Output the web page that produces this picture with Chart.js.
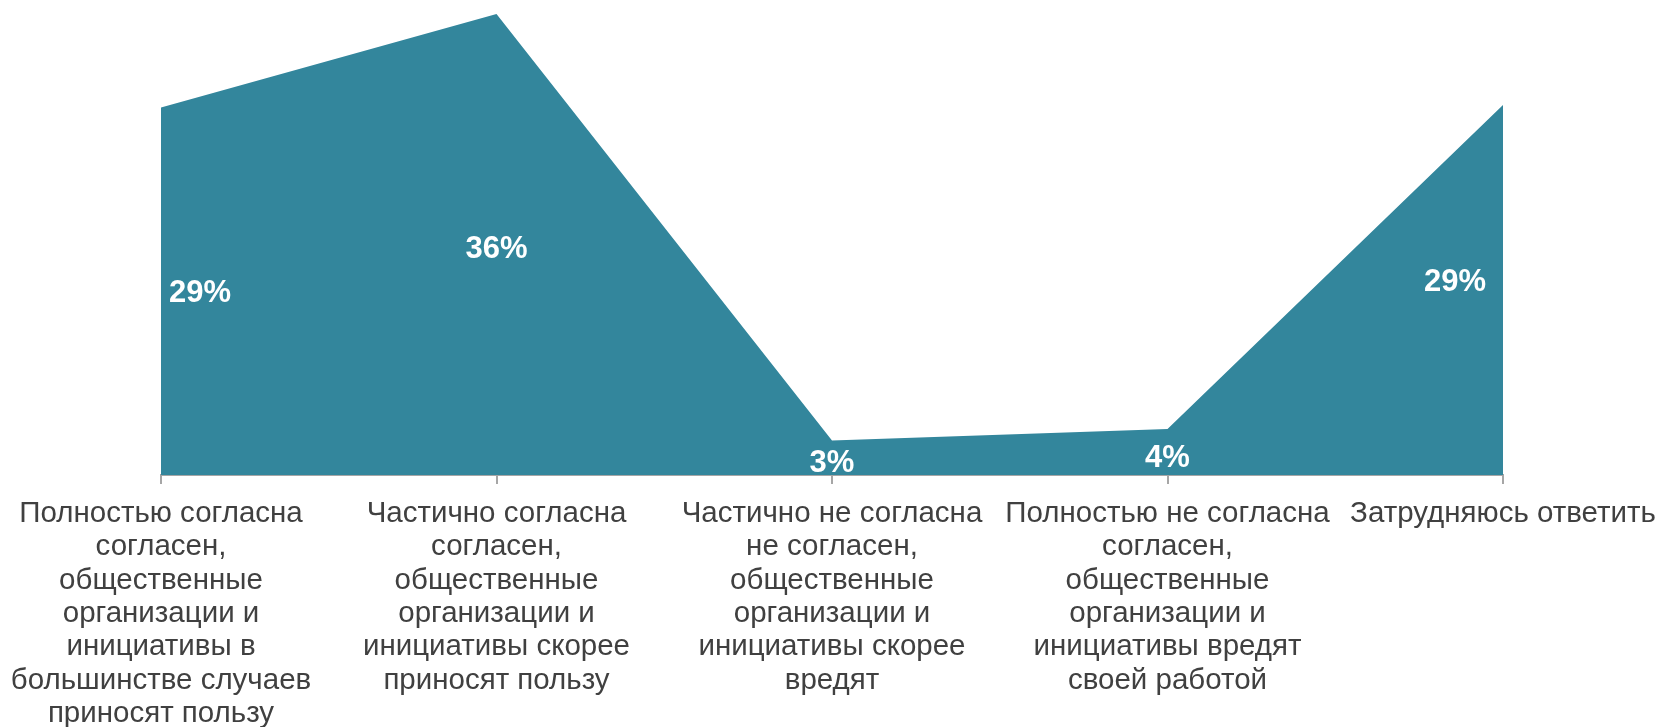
<!DOCTYPE html>
<html>
<head>
<meta charset="utf-8">
<script src="https://cdn.jsdelivr.net/npm/chart.js@4.4.1/dist/chart.umd.min.js"></script>
<style>
  html, body { margin: 0; padding: 0; background: #ffffff; }
  #wrap { position: relative; width: 1661px; height: 727px; }
</style>
</head>
<body>
<div id="wrap"><canvas id="c" width="1661" height="727"></canvas></div>
<script>
// Categories (wrapped as in the original)
const categories = [
  ["Полностью согласна", "согласен,", "общественные", "организации и", "инициативы в", "большинстве случаев", "приносят пользу"],
  ["Частично согласна", "согласен,", "общественные", "организации и", "инициативы скорее", "приносят пользу"],
  ["Частично не согласна", "не согласен,", "общественные", "организации и", "инициативы скорее", "вредят"],
  ["Полностью не согласна", "согласен,", "общественные", "организации и", "инициативы вредят", "своей работой"],
  ["Затрудняюсь ответить"]
];
// Series values (percent)
const values = [28.7, 36, 2.7, 3.6, 28.9];
// Data label texts
const valueLabels = ["29%", "36%", "3%", "4%", "29%"];

const FONT = "'Liberation Sans', Arial, Helvetica, sans-serif";

const labelPlugin = {
  id: 'areaLabels',
  afterDatasetsDraw(chart) {
    const ctx = chart.ctx;
    const meta = chart.getDatasetMeta(0);
    const yScale = chart.scales.y;
    const align = ['left', 'center', 'center', 'center', 'right'];
    const dx = [8, 0, 0, 0, -17];
    const dy = [2, 5, 6, 7, -8];
    ctx.save();
    ctx.font = "bold 31px " + FONT;
    ctx.fillStyle = '#ffffff';
    ctx.textBaseline = 'middle';
    meta.data.forEach((pt, i) => {
      const y = yScale.getPixelForValue(values[i] / 2) + dy[i];
      ctx.textAlign = align[i];
      ctx.fillText(valueLabels[i], pt.x + dx[i], y);
    });
    ctx.restore();
  }
};

new Chart(document.getElementById('c'), {
  type: 'line',
  data: {
    labels: categories,
    datasets: [{
      data: values,
      fill: 'origin',
      backgroundColor: '#33869c',
      borderWidth: 0,
      borderColor: 'rgba(0,0,0,0)',
      pointRadius: 0,
      tension: 0
    }]
  },
  options: {
    responsive: false,
    animation: false,
    events: [],
    layout: { padding: { left: 161, right: 158, top: 14, bottom: 0 } },
    plugins: { legend: { display: false }, tooltip: { enabled: false } },
    scales: {
      x: {
        offset: false,
        border: { display: true, color: '#a6a6a6', width: 2 },
        grid: { display: true, drawOnChartArea: false, drawTicks: true, tickLength: 9, color: '#a6a6a6', lineWidth: 2 },
        ticks: {
          autoSkip: false, maxRotation: 0, minRotation: 0, padding: 13,
          color: '#404040',
          font: { family: FONT, size: 29.5, lineHeight: 33.4 / 29.5 }
        },
        afterFit(scale) {
          scale.height = 252;
          scale.paddingLeft = 0;
          scale.paddingRight = 0;
        }
      },
      y: {
        display: false,
        min: 0,
        max: 36
      }
    }
  },
  plugins: [labelPlugin]
});
</script>
</body>
</html>
